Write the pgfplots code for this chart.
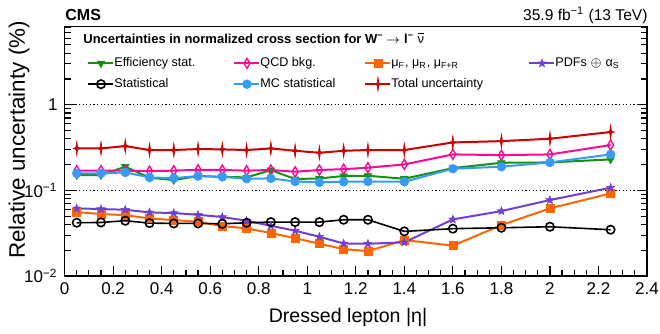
\documentclass[border=0pt]{standalone}
\usepackage{fontspec}
\setmainfont{Liberation Sans}
\usepackage{pgfplots}
\usepackage{pgfplotstable}
\pgfplotsset{compat=1.18}
\usetikzlibrary{plotmarks}

\definecolor{cgreen}{RGB}{20,145,20}
\definecolor{cpink}{RGB}{250,10,150}
\definecolor{corange}{RGB}{255,102,0}
\definecolor{cpurple}{RGB}{112,64,214}
\definecolor{cblue}{RGB}{55,155,245}
\definecolor{cred}{RGB}{204,0,0}

\pgfdeclareplotmark{fourstar}{%
  \pgfpathmoveto{\pgfqpoint{0pt}{1.9\pgfplotmarksize}}%
  \pgfpathlineto{\pgfqpoint{0.25\pgfplotmarksize}{0.3\pgfplotmarksize}}%
  \pgfpathlineto{\pgfqpoint{\pgfplotmarksize}{0pt}}%
  \pgfpathlineto{\pgfqpoint{0.25\pgfplotmarksize}{-0.3\pgfplotmarksize}}%
  \pgfpathlineto{\pgfqpoint{0pt}{-1.9\pgfplotmarksize}}%
  \pgfpathlineto{\pgfqpoint{-0.25\pgfplotmarksize}{-0.3\pgfplotmarksize}}%
  \pgfpathlineto{\pgfqpoint{-\pgfplotmarksize}{0pt}}%
  \pgfpathlineto{\pgfqpoint{-0.25\pgfplotmarksize}{0.3\pgfplotmarksize}}%
  \pgfpathclose\pgfusepathqfillstroke}
\pgfdeclareplotmark{fstar}{%
  \pgfpathmoveto{\pgfqpointpolar{90}{\pgfplotmarksize}}%
  \pgfpathlineto{\pgfqpointpolar{126}{0.42\pgfplotmarksize}}%
  \pgfpathlineto{\pgfqpointpolar{162}{\pgfplotmarksize}}%
  \pgfpathlineto{\pgfqpointpolar{198}{0.42\pgfplotmarksize}}%
  \pgfpathlineto{\pgfqpointpolar{234}{\pgfplotmarksize}}%
  \pgfpathlineto{\pgfqpointpolar{270}{0.42\pgfplotmarksize}}%
  \pgfpathlineto{\pgfqpointpolar{306}{\pgfplotmarksize}}%
  \pgfpathlineto{\pgfqpointpolar{342}{0.42\pgfplotmarksize}}%
  \pgfpathlineto{\pgfqpointpolar{18}{\pgfplotmarksize}}%
  \pgfpathlineto{\pgfqpointpolar{54}{0.42\pgfplotmarksize}}%
  \pgfpathclose\pgfusepathqfillstroke}

\pgfplotstableread{
x     tot    qcd    eff     mc     pdf     mu      stat
0.05  0.309  0.170  0.151   0.158  0.0616  0.0558  0.0419
0.15  0.309  0.170  0.151   0.158  0.0605  0.0529  0.0422
0.25  0.329  0.170  0.189   0.162  0.0594  0.0514  0.0442
0.35  0.296  0.168  0.1405  0.1417 0.0553  0.0470  0.0415
0.45  0.296  0.170  0.132   0.139  0.0543  0.0450  0.0411
0.55  0.304  0.174  0.147   0.147  0.0519  0.0430  0.0411
0.65  0.301  0.173  0.144   0.144  0.0488  0.0383  0.0407
0.75  0.296  0.170  0.1417  0.1367 0.0442  0.0360  0.0419
0.85  0.309  0.173  0.1726  0.138  0.0386  0.0317  0.0426
0.95  0.290  0.165  0.1355  0.127  0.0338  0.0277  0.0426
1.05  0.275  0.173  0.138   0.124  0.0287  0.0238  0.0426
1.15  0.290  0.177  0.147   0.126  0.0240  0.0206  0.0454
1.25  0.296  0.184  0.148   0.127  0.0238  0.0195  0.0454
1.4   0.296  0.201  0.1367  0.126  0.0247  0.0263  0.0332
1.6   0.363  0.263  0.182   0.179  0.0458  0.0226  0.0357
1.8   0.376  0.258  0.210   0.189  0.0573  0.0393  0.0366
2.0   0.401  0.263  0.212   0.212  0.0771  0.0616  0.0376
2.25  0.480  0.338  0.230   0.263  0.1074  0.0922  0.0347
}\datatable

\begin{document}
\begin{tikzpicture}
\begin{axis}[
  scale only axis, width=291.2pt, height=124.75pt,
  xmin=0, xmax=2.4, ymode=log, ymin=0.01, ymax=8.2,
  clip=false,
  xtick={0,0.2,0.4,0.6,0.8,1,1.2,1.4,1.6,1.8,2,2.2,2.4},
  minor x tick num=3,
  ytick={0.01,0.1,1},
  yticklabels={10\textsuperscript{−2},10\textsuperscript{−1},1},
  minor ytick={0.02,0.03,0.04,0.05,0.06,0.07,0.08,0.09,0.2,0.3,0.4,0.5,0.6,0.7,0.8,0.9,2,3,4,5,6,7,8},
  tick align=inside, xtick pos=left, ytick pos=both,
  major tick length=5pt, minor tick length=3pt,
  every tick/.style={black, line width=0.6pt},
  axis line style={line width=0.8pt},
  ymajorgrids, major grid style={black, dash pattern=on 0.6pt off 1.2pt, line width=0.5pt},
  tick label style={font=\fontsize{8.5}{10}\selectfont},
  /pgf/number format/assume math mode=true,
  xlabel={Dressed lepton |η|},
  xlabel style={at={(axis description cs:0.4866,-0.1856)}, anchor=base, font=\fontsize{9.8}{12}\selectfont},
  ylabel={Relative uncertainty (\%)},
  ylabel style={at={(axis description cs:-0.068,1.050)}, anchor=base east, font=\fontsize{11.2}{13}\selectfont},
  legend columns=4,
  legend style={at={(axis description cs:0.0283,0.894)}, anchor=north west, draw=none, fill=none,
    font=\fontsize{6.3}{7.5}\selectfont,
    nodes={inner sep=0pt, text height=4.6pt, text depth=1.4pt},
    row sep=4pt, column sep=0pt,
    /tikz/every even column/.append style={column sep=2pt}},
  legend cell align=left,
  legend image code/.code={\draw[mark repeat=2,mark phase=2] plot coordinates {(0pt,0pt) (6.25pt,0pt) (12.5pt,0pt)};},
]
\addplot[color=cgreen, line width=1pt, mark=triangle*, mark size=2.2pt, mark options={rotate=180, solid, line width=0.3pt}] table[x=x,y=eff]{\datatable};
\addlegendentry{\makebox[57.5pt][l]{Efficiency stat.}}
\addplot[color=cpink, line width=1pt, mark=diamond, mark size=2.5pt, mark options={solid, xscale=0.8, fill=white, line width=0.7pt}] table[x=x,y=qcd]{\datatable};
\addlegendentry{\makebox[50pt][l]{QCD bkg.}}
\addplot[color=corange, line width=1pt, mark=square*, mark size=2pt, mark options={solid, line width=0.3pt}] table[x=x,y=mu]{\datatable};
\addlegendentry{\makebox[66.5pt][l]{μ\textsubscript{F}, μ\textsubscript{R}, μ\textsubscript{F+R}}}
\addplot[color=cpurple, line width=1pt, mark=fstar, mark size=2.1pt, mark options={solid, line width=0.3pt}] table[x=x,y=pdf]{\datatable};
\addlegendentry{PDFs $\oplus$ α\textsubscript{S}}
\addplot[color=black, line width=0.8pt, mark=o, mark size=2.1pt, mark options={solid}] table[x=x,y=stat]{\datatable};
\addlegendentry{\makebox[57.5pt][l]{Statistical}}
\addplot[color=cblue, line width=1pt, mark=*, mark size=2.2pt, mark options={solid, line width=0.3pt}] table[x=x,y=mc]{\datatable};
\addlegendentry{\makebox[50pt][l]{MC statistical}}
\addplot[color=cred, line width=1pt, mark=fourstar, mark size=1.8pt, mark options={solid, line width=0.3pt}] table[x=x,y=tot]{\datatable};
\addlegendentry{\makebox[66.5pt][l]{Total uncertainty}}

\node[anchor=west, font=\bfseries\fontsize{6.5}{7.5}\selectfont, inner sep=0pt] at (axis description cs:0.0316,0.954)
  {Uncertainties in normalized cross section for W\textsuperscript{−}\,$\rightarrow$ l\textsuperscript{−} $\overline{\mbox{\mdseries ν}}$};
\node[anchor=base west, font=\bfseries\fontsize{8}{9}\selectfont, inner sep=0pt] at (axis description cs:0.0007,1.0232) {CMS};
\node[anchor=base east, font=\fontsize{7.8}{9}\selectfont, inner sep=0pt] at (axis description cs:1.0017,1.026) {35.9 fb\textsuperscript{−1} (13 TeV)};
\end{axis}
\pgfresetboundingbox
\path[use as bounding box] ([xshift=-32.3pt,yshift=-28.5pt]current axis.south west) rectangle ([xshift=6.5pt,yshift=13.25pt]current axis.north east);
\end{tikzpicture}
\end{document}
